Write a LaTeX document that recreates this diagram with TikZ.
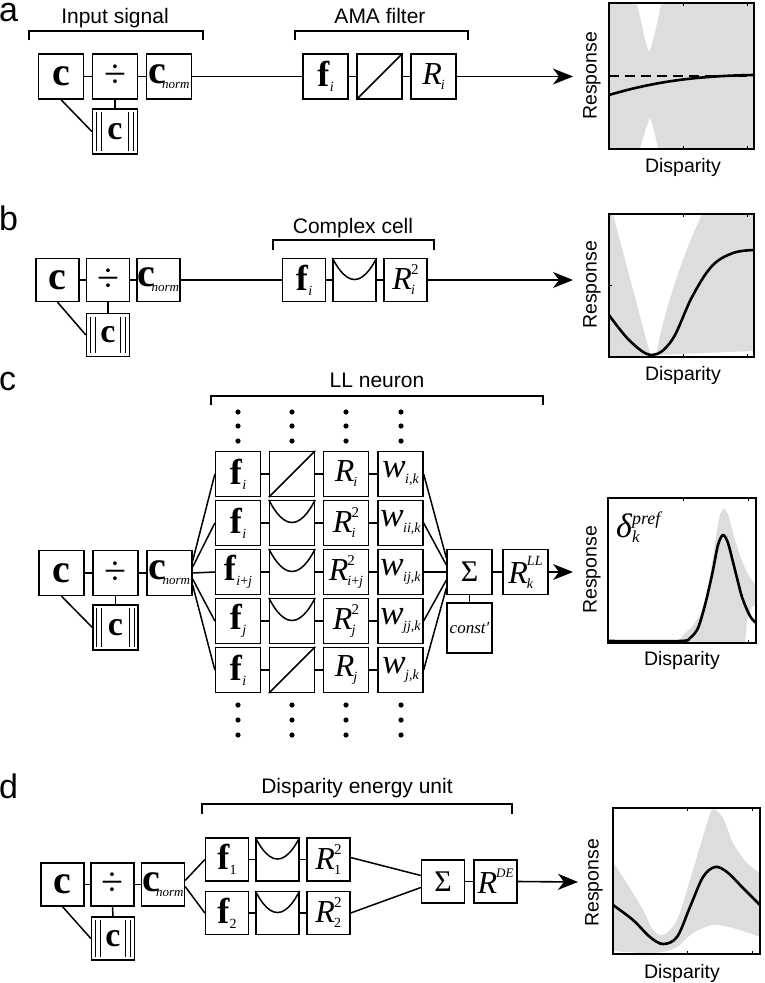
\documentclass[tikz,border=0pt]{standalone}
\usepackage{fontspec}
\setmainfont{Liberation Serif}
\setsansfont{Liberation Sans}
\usetikzlibrary{arrows.meta,calc}
\definecolor{bandgray}{HTML}{DCDDDF}
\newcommand\FS[1]{\fontsize{#1}{#1}\selectfont}
\newcommand\cB{{\FS{40}\bfseries c}}
\newcommand\cN{{\FS{40}\bfseries c}\kern-4pt\raisebox{-5pt}{\FS{13}\itshape norm}}
\newcommand\dv{{\FS{40}÷}}
\newcommand\fB[1]{{\FS{36}\bfseries f}\kern0.5pt\raisebox{-5pt}{\FS{14}#1}}
\newcommand\Rs{{\FS{32}\itshape R}}
\newcommand\SupSub[3]{%
  \setbox0=\hbox{#2}\setbox2=\hbox{#3}%
  \ifdim\wd0>\wd2 \rlap{\raisebox{-5pt}{\copy2}}\raisebox{#1}{\copy0}%
  \else \rlap{\raisebox{#1}{\copy0}}\raisebox{-5pt}{\copy2}\fi}
\newcommand\Rsub[1]{\Rs\kern-1pt\raisebox{-5pt}{\FS{14}#1}}
\newcommand\Rsq[1]{\Rs\kern-1pt\SupSub{15pt}{\FS{15}2}{\FS{14}#1}}
\newcommand\wB[1]{{\FS{35}\itshape w}\kern-0.5pt\raisebox{-6pt}{\FS{14}\itshape #1}}
\newcommand\SigB{{\FS{30}Σ}}
\def\bsz{45pt}
\tikzset{
  bx/.style={draw, line width=1.3pt, minimum width=\bsz, minimum height=\bsz, inner sep=0pt, fill=white},
  ln/.style={line width=1.5pt},
  nbar/.style={line width=1.1pt},
  brk/.style={line width=1.3pt},
  arr/.style={line width=1.6pt, -{Stealth[length=20pt,width=16pt,inset=6pt]}},
  ttl/.style={font=\sffamily\FS{21}, anchor=base, inner sep=0pt},
  lbl/.style={font=\sffamily\FS{34}, anchor=base west, inner sep=0pt},
  axl/.style={font=\sffamily\FS{19.5}, inner sep=0pt},
  crv/.style={line width=2.6pt, line join=round},
  pfr/.style={line width=1.4pt},
  tk/.style={line width=0.8pt}
}
\newcommand\normbox[3]{%
  \node[bx] (#1) at (#2,#3) {{\FS{34}\bfseries c}};
  \foreach \dx in {4.5,9.5} {
    \draw[nbar] ($(#1.north west)+(\dx,4)$) -- ($(#1.south west)+(\dx,-4)$);
    \draw[nbar] ($(#1.north east)+(-\dx,4)$) -- ($(#1.south east)+(-\dx,-4)$);
  }}
\newcommand\linbox[3]{%
  \node[bx] (#1) at (#2,#3) {};
  \draw[ln] (#1.south west) -- (#1.north east);}
\newcommand\sqbox[3]{%
  \node[bx] (#1) at (#2,#3) {};
  \draw[ln] (#1.north west) parabola bend ($(#1.north)!0.49!(#1.south)$) (#1.north east);}
\newcommand\ticks[4]{%
  \foreach \tx in {#1,#2} {\draw[tk] (\tx,#3) -- ++(0,3); \draw[tk] (\tx,#4) -- ++(0,-3);}}
\begin{document}
\begin{tikzpicture}[x=1pt,y=-1pt]
\useasboundingbox (0,0) rectangle (765,983);

%================ panel a
\def\bsz{45pt}
\node[lbl] (la) at (-1,21) {a};
\node[ttl] (ta1) at (115,23) {Input signal};
\node[ttl] (ta2) at (380,23) {AMA filter};
\draw[brk] (29,40) -- (29,31) -- (203,31) -- (203,40);
\draw[brk] (295,40) -- (295,31) -- (468,31) -- (468,40);
\node[bx] (ac) at (61,76.5) {\cB};
\node[bx] (ad) at (115,76.5) {\dv};
\node[bx] (an) at (169,76.5) {\cN};
\normbox{am}{115}{131.5}
\node[bx] (af) at (325.5,76.5) {\fB{\itshape i}};
\linbox{al}{379.5}{76.5}
\node[bx] (ar) at (433.5,76.5) {\Rsub{\itshape i}};
\coordinate (atip) at (573,76.5);
\draw[ln] (ac) -- (ad);
\draw[ln] (ad) -- (an);
\draw[ln] (an) -- (af);
\draw[ln] (af) -- (al);
\draw[ln] (al) -- (ar);
\draw[ln] (ad.south) -- (am.north);
\draw[ln] (ac.south) -- (am.west);
\draw[arr] (ar.east) -- (atip);
% plot a
\begin{scope}
\clip (609,3) rectangle (754,149);
\fill[bandgray] (609,3) rectangle (754,149);
\fill[white] (637,3) .. controls (643,30) and (646,45) .. (649,52) .. controls (652,45) and (656,30) .. (661,3) -- cycle;
\fill[white] (640,149) .. controls (644,135) and (647,125) .. (650,118) .. controls (653,125) and (655,135) .. (658,149) -- cycle;
\draw[line width=1.6pt, dash pattern=on 10pt off 6pt] (609,76) -- (754,76);
\draw[crv] (609,95) .. controls (650,83) and (690,76) .. (754,75);
\end{scope}
\draw[pfr] (609,3) rectangle (754,149);
\ticks{683}{747}{3}{149}
\node[axl, rotate=90] (ra) at (592,76) {Response};
\node[axl, anchor=base] (da) at (683,172) {Disparity};

%================ panel b
\def\bsz{43pt}
\node[lbl] (lb) at (-1,230) {b};
\node[ttl] (tb) at (353,233) {Complex cell};
\draw[brk] (273,250) -- (273,240) -- (434,240) -- (434,250);
\node[bx] (bc) at (57.5,280) {\cB};
\node[bx] (bd) at (108,280) {\dv};
\node[bx] (bn) at (158.5,280) {\cN};
\normbox{bm}{108}{335}
\node[bx] (bf) at (304,280) {\fB{\itshape i}};
\sqbox{bs}{354.5}{280}
\node[bx] (br) at (405.5,280) {\Rsq{\itshape i}};
\coordinate (btip) at (573,280);
\draw[ln] (bc) -- (bd);
\draw[ln] (bd) -- (bn);
\draw[ln] (bn) -- (bf);
\draw[ln] (bf) -- (bs);
\draw[ln] (bs) -- (br);
\draw[ln] (bd.south) -- (bm.north);
\draw[ln] (bc.south) -- (bm.west);
\draw[arr] (br.east) -- (btip);
% plot b
\begin{scope}
\clip (609,214) rectangle (754,357);
\fill[bandgray] (609,214) rectangle (754,357);
\fill[white] (613,214) -- (651,357) -- (754,357) -- (754,351) -- (656,355) .. controls (662,320) and (680,260) .. (702,214) -- cycle;
\draw[crv] plot[smooth, tension=0.6] coordinates {(609,315) (630,341) (652,355) (672,340) (692,297) (712,266) (733,253) (754,250)};
\end{scope}
\draw[pfr] (609,214) rectangle (754,357);
\ticks{683}{747}{214}{357}
\draw[tk] (609,285) -- ++(3,0);
\node[axl, rotate=90] (rb) at (592,285) {Response};
\node[axl, anchor=base] (db) at (683,380) {Disparity};

%================ panel c
\def\bsz{45pt}
\node[lbl] (lc) at (-1,390) {c};
\node[ttl] (tc) at (377,387) {LL neuron};
\draw[brk] (211,405) -- (211,396) -- (543,396) -- (543,405);
\foreach \xx in {238,292,346,401}
  \foreach \yy in {412,426,441,705,720,735}
    \fill (\xx,\yy) circle[radius=2.6];
\node[bx] (cc) at (61.5,573) {\cB};
\node[bx] (cd) at (115.5,573) {\dv};
\node[bx] (cn) at (169.5,573) {\cN};
\normbox{cm}{115.5}{627.5}
\draw[ln] (cc) -- (cd);
\draw[ln] (cd) -- (cn);
\draw[ln] (cd.south) -- (cm.north);
\draw[ln] (cc.south) -- (cm.west);
% rows
\node[bx] (f1) at (238,474) {\fB{\itshape i}};
\linbox{n1}{292}{474}
\node[bx] (r1) at (346,474) {\Rsub{\itshape i}};
\node[bx] (w1) at (400.5,474) {\wB{i,k}};
\node[bx] (f2) at (238,523) {\fB{\itshape i}};
\sqbox{n2}{292}{523}
\node[bx] (r2) at (346,523) {\Rsq{\itshape i}};
\node[bx] (w2) at (400.5,523) {\wB{ii,k}};
\node[bx] (f3) at (238,572) {\fB{\itshape i\upshape+\itshape j}};
\sqbox{n3}{292}{572}
\node[bx] (r3) at (346,572) {\Rsq{\itshape i\upshape+\itshape j}};
\node[bx] (w3) at (400.5,572) {\wB{ij,k}};
\node[bx] (f4) at (238,621) {\fB{\itshape j}};
\sqbox{n4}{292}{621}
\node[bx] (r4) at (346,621) {\Rsq{\itshape j}};
\node[bx] (w4) at (400.5,621) {\wB{jj,k}};
\node[bx] (f5) at (238,670) {\fB{\itshape i}};
\linbox{n5}{292}{670}
\node[bx] (r5) at (346,670) {\Rsub{\itshape j}};
\node[bx] (w5) at (400.5,670) {\wB{j,k}};
\foreach \k in {1,...,5} {
  \draw[ln] (f\k) -- (n\k);
  \draw[ln] (n\k) -- (r\k);
  \draw[ln] (r\k) -- (w\k);
}
\node[bx] (cs) at (469.5,572) {\SigB};
\node[bx, minimum height=50pt] (ck) at (469.5,628) {{\FS{17}\itshape const′}};
\node[bx] (cr) at (525.5,572) {\Rs\kern-1pt\SupSub{18pt}{\FS{14}\itshape LL}{\FS{14}\itshape k}};
\coordinate (ctip) at (573,572);
\draw[ln] ($(cn.east)+(0,-12)$) -- (f1.west);
\draw[ln] ($(cn.east)+(0,-6)$) -- (f2.west);
\draw[ln] (cn.east) -- (f3.west);
\draw[ln] ($(cn.east)+(0,6)$) -- (f4.west);
\draw[ln] ($(cn.east)+(0,12)$) -- (f5.west);
\draw[ln] (w1.east) -- ($(cs.west)+(0,-14)$);
\draw[ln] (w2.east) -- ($(cs.west)+(0,-7)$);
\draw[ln] (w3.east) -- (cs.west);
\draw[ln] (w4.east) -- ($(cs.west)+(0,8)$);
\draw[ln] (w5.east) -- ($(cs.west)+(0,16)$);
\draw[ln] (cs.south) -- (ck.north);
\draw[ln] (cs) -- (cr);
\draw[arr] (cr.east) -- (ctip);
% plot c
\begin{scope}
\clip (608,498) rectangle (756,643);
\fill[bandgray] (676,646) -- (684,634) -- (692,627) -- (700,615) -- (706,597) -- (711,570) -- (714,550) -- (717,530) -- (720,514) -- (724,508) -- (728,514) -- (731,525) -- (734,537) -- (738,550) -- (744,566) -- (750,578) -- (758,588)
  -- (758,603) -- (752,607) -- (747,620) -- (745,646) -- cycle;
\draw[crv] plot[smooth, tension=0.5] coordinates {(608,641) (680,641) (690,638) (698,628) (705,605) (712,575) (718,545) (723,535) (728,543) (735,570) (742,597) (750,616) (756,623)};
\end{scope}
\draw[pfr] (608,498) rectangle (756,643);
\ticks{683}{748}{498}{643}
\node[anchor=base west, inner sep=0pt] (dl) at (616,537) {{\FS{34}\itshape δ}\kern0pt\SupSub{13pt}{\FS{18}\itshape pref}{\FS{17}\itshape k}};
\node[axl, rotate=90] (rc) at (592,570) {Response};
\node[axl, anchor=base] (dc) at (682,665) {Disparity};

%================ panel d
\def\bsz{43pt}
\node[lbl] (ld) at (-1,798) {d};
\node[ttl] (td) at (357,793) {Disparity energy unit};
\draw[brk] (202,814) -- (202,804) -- (512,804) -- (512,814);
\node[bx] (dc) at (62.5,884.5) {\cB};
\node[bx] (dd) at (112.5,884.5) {\dv};
\node[bx] (dn) at (163,884.5) {\cN};
\normbox{dm}{113}{938.5}
\draw[ln] (dc) -- (dd);
\draw[ln] (dd) -- (dn);
\draw[ln] (dd.south) -- (dm.north);
\draw[ln] (dc.south) -- (dm.west);
\node[bx] (df1) at (227,859.5) {\fB{1}};
\sqbox{ds1}{277.5}{859.5}
\node[bx] (dr1) at (328.5,859.5) {\Rsq{1}};
\node[bx] (df2) at (227,913) {\fB{2}};
\sqbox{ds2}{277.5}{913}
\node[bx] (dr2) at (328.5,913) {\Rsq{2}};
\draw[ln] (df1) -- (ds1);
\draw[ln] (ds1) -- (dr1);
\draw[ln] (df2) -- (ds2);
\draw[ln] (ds2) -- (dr2);
\node[bx] (dsg) at (443,881.5) {\SigB};
\node[bx] (dre) at (495.5,881.5) {\Rs\kern-1pt\raisebox{16pt}{\FS{13}\itshape DE}};
\coordinate (dtip) at (578,882);
\draw[ln] ($(dn.east)+(0,-4)$) -- (df1.west);
\draw[ln] ($(dn.east)+(0,2)$) -- (df2.west);
\draw[ln] ($(dr1.east)+(0,-2)$) -- ($(dsg.west)+(0,-6)$);
\draw[ln] (dr2.east) -- ($(dsg.west)+(0,6)$);
\draw[ln] (dsg) -- (dre);
\draw[arr] (dre.east) -- (dtip);
% plot d
\begin{scope}
\clip (613,808) rectangle (760,954);
\fill[bandgray] plot[smooth, tension=0.5] coordinates {(613,862) (628,885) (643,910) (653,930) (663,935) (677,920) (693,870) (707,823) (713,809) (723,818) (733,843) (747,863) (760,873)}
  -- plot[smooth, tension=0.5] coordinates {(760,937) (733,928) (713,925) (693,933) (677,947) (663,952) (643,953) (613,951)} -- cycle;
\draw[crv] plot[smooth, tension=0.55] coordinates {(613,905) (633,920) (650,937) (663,944) (677,937) (690,907) (703,877) (715,867) (727,872) (743,888) (760,905)};
\end{scope}
\draw[pfr] (613,808) rectangle (760,954);
\ticks{687}{752}{808}{954}
\node[axl, rotate=90] (rd) at (594,883) {Response};
\node[axl, anchor=base] (ddp) at (682,978) {Disparity};
\end{tikzpicture}
\end{document}
